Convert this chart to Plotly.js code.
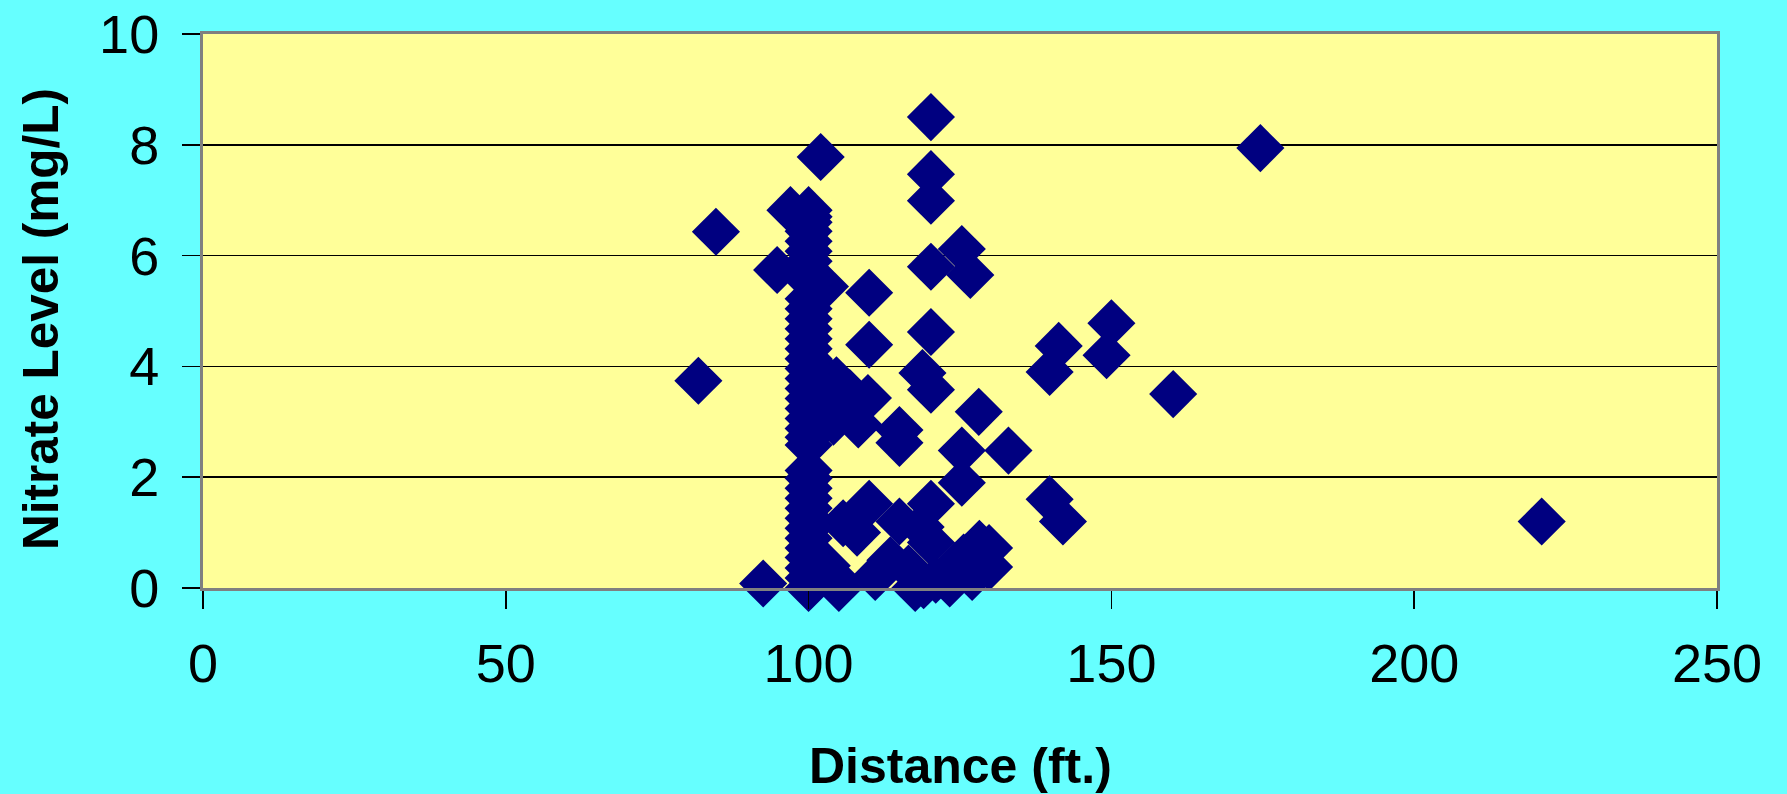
<!DOCTYPE html>
<html>
<head>
<meta charset="utf-8">
<script src="https://cdn.plot.ly/plotly-3.0.1.min.js"></script>
<style>
html,body{margin:0;padding:0;background:#66FFFF;}
#chart{width:1787px;height:794px;}
</style>
</head>
<body>
<div id="chart"></div>
<script>
// Scattered wells (distance ft, nitrate mg/L)
const distScatter = [81.8, 84.7, 92.5, 94.8, 97, 100, 102, 102.7, 110, 110,
  120.2, 120.2, 120.2, 120.2, 125.3, 126.7, 120.2, 118.8, 120.2, 128.1,
  115, 115, 125.3, 133, 125.3, 139.8, 142, 139.8, 141.3, 149.2,
  150, 160.2, 174.6, 221.05,
  104.6, 106.8, 109.8, 108.2, 104.1, 103, 105.5, 103.5,
  110, 120.2, 115, 118.5, 105.7, 108, 120.2, 128.2, 129.8, 129.8,
  113.5, 116.5, 124.2, 125.6, 127, 121, 123.3, 119, 104.7, 103, 111, 105, 117.6];
const nitrateScatter = [3.74, 6.43, 0.08, 5.74, 6.82, 6.82, 7.78, 5.44, 5.33, 4.39,
  8.5, 7.47, 6.99, 5.8, 6.12, 5.65, 4.62, 3.88, 3.58, 3.18,
  2.85, 2.62, 2.48, 2.48, 1.9, 1.6, 1.2, 3.9, 4.37, 4.2,
  4.78, 3.5, 7.94, 1.2,
  3.75, 3.52, 3.43, 2.95, 3.0, 3.3, 3.2, 3.74,
  1.52, 1.52, 1.2, 1.1, 1.17, 1.0, 0.82, 0.8, 0.72, 0.38,
  0.5, 0.35, 0.4, 0.55, 0.2, 0.15, 0.08, 0.05, 0.15, 0.4, 0.2, 0.0, 0.0];
// Wells recorded at 100 ft
const distColumn = [100, 100, 100, 100, 100, 100, 100, 100, 100, 100,
  100, 100, 100, 100, 100, 100, 100, 100, 100, 100,
  100, 100, 100, 100, 100, 100, 100, 100, 100, 100,
  100, 100, 100, 100, 100, 100, 100];
const nitrateColumn = [0, 0.18, 0.36, 0.55, 0.72, 0.9, 1.08, 1.26, 1.44, 1.62,
  1.8, 1.98, 2.12, 2.58, 2.72, 2.88, 3.06, 3.24, 3.42, 3.6,
  3.78, 3.96, 4.14, 4.32, 4.5, 4.68, 4.86, 5.04, 5.22, 5.55, 5.72,
  5.9, 6.08, 6.26, 6.44, 6.6, 6.7];

const xTicks = [0, 50, 100, 150, 200, 250];
const yTicks = [0, 2, 4, 6, 8, 10];
const xTitle = 'Distance (ft.)';
const yTitle = 'Nitrate Level (mg/L)';

const allX = distColumn.concat(distScatter);
const allY = nitrateColumn.concat(nitrateScatter);

const trace = {
  x: allX, y: allY, type: 'scatter', mode: 'markers',
  cliponaxis: false,
  marker: {symbol: 'diamond', size: 37, color: '#000080', line: {width: 0}},
  hoverinfo: 'x+y'
};

const font = 'Liberation Sans, Arial, sans-serif';
const layout = {
  width: 1787, height: 794,
  paper_bgcolor: '#66FFFF', plot_bgcolor: '#FFFF99',
  margin: {l: 203, r: 70, t: 34, b: 206},
  showlegend: false,
  font: {family: font, color: '#000'},
  xaxis: {
    range: [0, 250], tickvals: xTicks, ticktext: xTicks.map(String),
    ticks: 'outside', ticklen: 18, tickwidth: 1.5, tickcolor: '#000',
    showgrid: false, zeroline: false,
    showline: true, linecolor: '#808080', linewidth: 3, mirror: true,
    tickfont: {size: 54, family: font},
    ticklabelstandoff: 8,
    automargin: false
  },
  yaxis: {
    range: [0, 10], tickvals: yTicks, ticktext: yTicks.map(String),
    ticks: 'outside', ticklen: 18, tickwidth: 1.5, tickcolor: '#000',
    showgrid: true, gridcolor: '#000', gridwidth: 1.5, zeroline: false,
    showline: true, linecolor: '#808080', linewidth: 3, mirror: true,
    tickfont: {size: 54, family: font},
    ticklabelstandoff: 12,
    automargin: false
  },
  annotations: [
    {text: '<b>' + xTitle + '</b>', xref: 'paper', yref: 'paper', x: 0.5, y: 0,
     yshift: -178, xanchor: 'center', yanchor: 'middle', showarrow: false,
     font: {size: 50, family: font, color: '#000'}},
    {text: '<b>' + yTitle + '</b>', xref: 'paper', yref: 'paper', x: 0, y: 0.5,
     xshift: -163, yshift: -8, xanchor: 'center', yanchor: 'middle', textangle: -90,
     showarrow: false, font: {size: 49.5, family: font, color: '#000'}}
  ]
};

Plotly.newPlot('chart', [trace], layout, {displayModeBar: false, staticPlot: true});
</script>
</body>
</html>
